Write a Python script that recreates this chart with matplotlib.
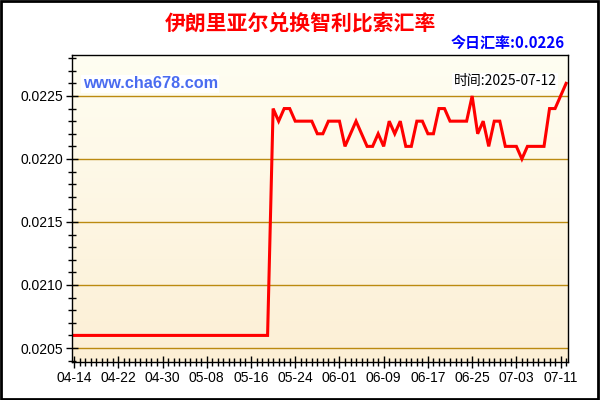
import matplotlib
matplotlib.use('Agg')
import matplotlib.pyplot as plt
import matplotlib.dates as mdates
from matplotlib.ticker import MultipleLocator
import numpy as np
import pandas as pd

plt.rcParams['font.family'] = ['Liberation Sans', 'Noto Sans CJK SC', 'DejaVu Sans']

# data
start_date = '2025-04-14'
end_date = '2025-07-12'
rates = [0.0206] * 36 + [
    0.0224, 0.0223, 0.0224, 0.0224, 0.0223, 0.0223, 0.0223, 0.0223,
    0.0222, 0.0222, 0.0223, 0.0223, 0.0223, 0.0221, 0.0222, 0.0223,
    0.0222, 0.0221, 0.0221, 0.0222, 0.0221, 0.0223, 0.0222, 0.0223,
    0.0221, 0.0221, 0.0223, 0.0223, 0.0222, 0.0222, 0.0224, 0.0224,
    0.0223, 0.0223, 0.0223, 0.0223, 0.0225, 0.0222, 0.0223, 0.0221,
    0.0223, 0.0223, 0.0221, 0.0221, 0.0221, 0.0220, 0.0221, 0.0221,
    0.0221, 0.0221, 0.0224, 0.0224, 0.0225, 0.0226,
]
dates = pd.date_range(start_date, end_date, freq='D')
title = '伊朗里亚尔兑换智利比索汇率'
today_text = '今日汇率:0.0226'
time_text = '时间:2025-07-12'
site = 'www.cha678.com'
yticks = [0.0205, 0.0210, 0.0215, 0.0220, 0.0225]

fig = plt.figure(figsize=(6, 4), dpi=100)
fig.patch.set_facecolor('white')
ax = fig.add_axes([0.12, 0.095, 0.827, 0.7675])

# gradient background
top = np.array([255, 254, 242]) / 255
bot = np.array([252, 239, 213]) / 255
t = np.linspace(0, 1, 256)[:, None]
grad = (top * (1 - t) + bot * t)[:, None, :]
ax.imshow(grad, extent=[0, 1, 0, 1], transform=ax.transAxes,
          aspect='auto', zorder=0)

ax.plot(dates, rates, color='#ff0000', lw=2.2, zorder=3,
        solid_joinstyle='miter')

ax.set_ylim(0.020389, 0.022825)
ax.set_xlim(dates[0] - pd.Timedelta(hours=9), dates[-1] + pd.Timedelta(hours=9))
ax.set_yticks(yticks)
ax.yaxis.set_major_formatter(plt.FormatStrFormatter('%.4f'))
ax.yaxis.set_minor_locator(MultipleLocator(0.0001))
ax.set_xticks(dates[::8])
ax.xaxis.set_major_formatter(mdates.DateFormatter('%m-%d'))
ax.xaxis.set_minor_locator(mdates.DayLocator())
ax.grid(axis='y', color='#bb8a10', lw=1, zorder=1)
ax.tick_params(which='major', direction='inout', length=9, width=1,
               labelsize=10, colors='black', pad=2)
ax.tick_params(which='minor', direction='inout', length=6, width=1)
for s in ax.spines.values():
    s.set_color('black')
    s.set_linewidth(1)
    s.set_zorder(4)

fig.text(0.5, 0.943, title, ha='center', va='center', color='#ff0000',
         fontsize=15, fontweight='bold', family=['Noto Sans CJK SC'])
fig.text(0.942, 0.893, today_text, ha='right', va='center', color='#0000ff',
         fontsize=10.8, fontweight='bold', family=['Noto Sans CJK SC', 'DejaVu Sans'])
fig.text(0.138, 0.79, site, ha='left', va='center', color='#4a6cf0',
         fontsize=11.7, fontweight='bold', family=['Liberation Sans'],
         bbox=dict(facecolor='white', edgecolor='none', pad=1))
fig.text(0.928, 0.797, time_text, ha='right', va='center', color='black',
         fontsize=10, family=['Noto Sans CJK SC', 'DejaVu Sans'],
         bbox=dict(facecolor='white', edgecolor='none', pad=1))

# outer border
fig.add_artist(plt.Rectangle((0.002, 0.003), 0.995, 0.994, transform=fig.transFigure,
                             fill=False, edgecolor='black', lw=2))

fig.savefig('out.png', dpi=100)
